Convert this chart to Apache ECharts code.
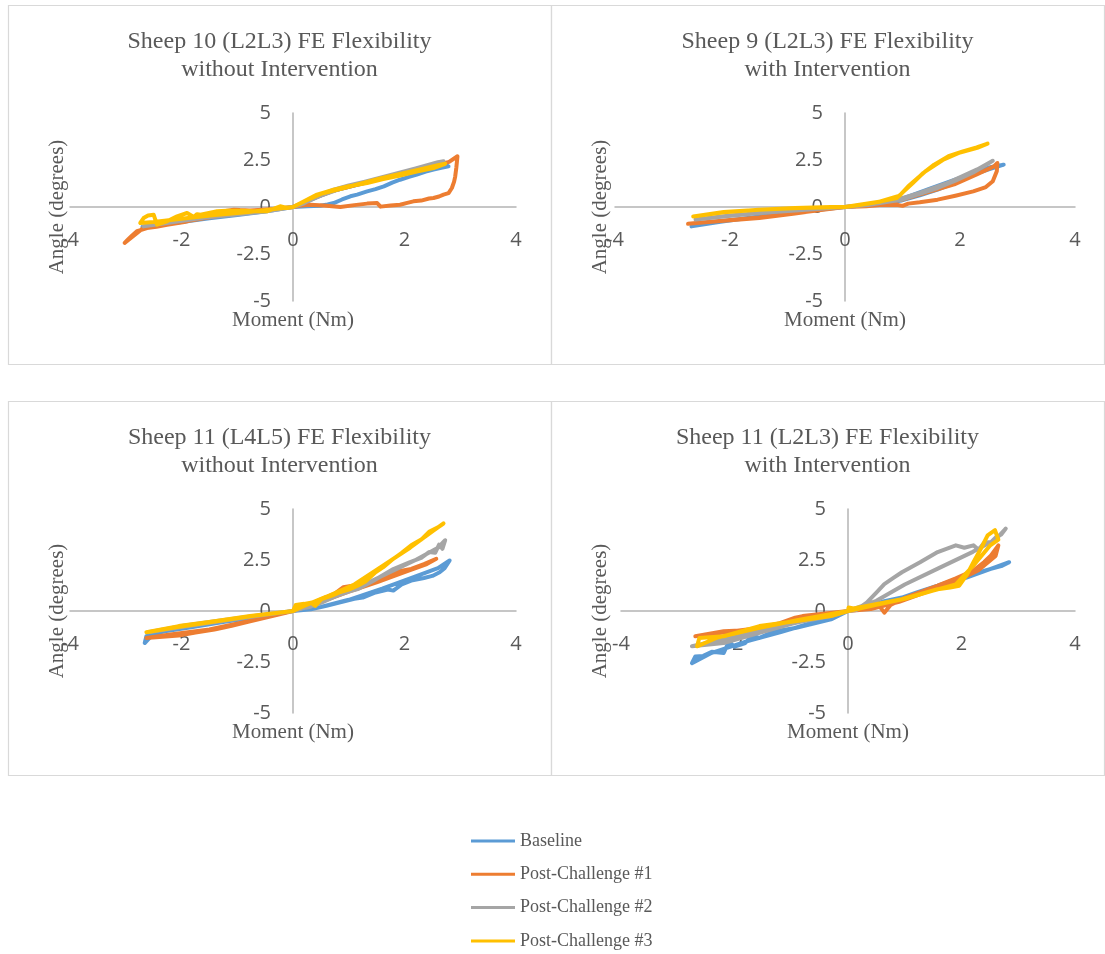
<!DOCTYPE html>
<html>
<head>
<meta charset="utf-8">
<script src="https://cdn.jsdelivr.net/npm/echarts@6/dist/echarts.min.js"></script>
<style>
  html, body { margin: 0; padding: 0; background: #ffffff; }
  #chart { width: 1105px; height: 954px; }
</style>
</head>
<body>
<div id="chart"></div>
<script>
// Series names and colours shared by all four panels
const seriesNames = ['Baseline', 'Post-Challenge #1', 'Post-Challenge #2', 'Post-Challenge #3'];
const seriesColors = ['#5B9BD5', '#ED7D31', '#A5A5A5', '#FFC000'];

const panelTitles = [
  'Sheep 10 (L2L3) FE Flexibility\nwithout Intervention',
  'Sheep 9 (L2L3) FE Flexibility\nwith Intervention',
  'Sheep 11 (L4L5) FE Flexibility\nwithout Intervention',
  'Sheep 11 (L2L3) FE Flexibility\nwith Intervention'
];
const xAxisTitle = 'Moment (Nm)';
const yAxisTitle = 'Angle (degrees)';
const momentRange = [-4, 4];   // ticks every 2
const angleRange = [-5, 5];    // ticks every 2.5

// ---- Sheep 10 (L2L3), without intervention: [moment Nm, angle deg] loops ----
const s10Baseline = [
  [0, 0], [0.25, 0.04], [0.49, 0.07], [0.62, 0.14], [0.73, 0.21], [0.88, 0.4], [1.03, 0.57], [1.15, 0.66],
  [1.33, 0.83], [1.48, 0.95], [1.63, 1.1], [1.78, 1.3], [1.92, 1.45], [2.08, 1.6], [2.22, 1.72],
  [2.38, 1.88], [2.52, 1.99], [2.66, 2.08], [2.79, 2.16],
  [2.68, 2.36], [2.4, 2.15], [1.9, 1.75], [1.3, 1.28], [0.7, 0.85], [0.4, 0.5], [0.15, 0.15], [0, 0],
  [-0.5, -0.24], [-1.0, -0.42], [-1.5, -0.6], [-2.0, -0.8], [-2.4, -0.95], [-2.7, -1.05],
  [-2.4, -0.9], [-1.8, -0.65], [-1.1, -0.4], [-0.5, -0.2], [0, 0]
];
const s10Challenge1 = [
  [0, 0], [0.15, 0.08], [0.31, 0.12], [0.55, 0.08], [0.85, 0], [1.1, 0.1], [1.33, 0.18], [1.51, 0.21],
  [1.57, 0.02], [1.75, 0.08], [1.92, 0.12], [2.05, 0.22], [2.16, 0.3], [2.3, 0.34], [2.44, 0.45],
  [2.52, 0.48], [2.62, 0.56], [2.7, 0.66], [2.79, 0.74], [2.85, 1.01], [2.89, 1.35], [2.91, 1.63],
  [2.93, 2.1], [2.95, 2.7],
  [2.8, 2.4], [2.4, 2.12], [1.9, 1.75], [1.3, 1.3], [0.7, 0.85], [0.35, 0.45], [0, 0],
  [-0.35, -0.11], [-0.55, -0.15], [-0.77, -0.18], [-0.95, -0.16], [-1.06, -0.14], [-1.18, -0.2],
  [-1.4, -0.4], [-1.66, -0.59], [-1.95, -0.8], [-2.26, -0.94], [-2.45, -1.05], [-2.62, -1.12],
  [-2.72, -1.22], [-2.8, -1.29], [-2.88, -1.5], [-2.95, -1.7], [-3.02, -1.91],
  [-2.7, -1.15], [-2.0, -0.8], [-1.3, -0.45], [-0.6, -0.2], [0, 0]
];
const s10Challenge2 = [
  [0, 0], [0.2, 0.2], [0.43, 0.57], [0.73, 0.92], [1.0, 1.15], [1.33, 1.37], [1.62, 1.6],
  [1.92, 1.81], [2.22, 2.04], [2.52, 2.25], [2.7, 2.43],
  [2.6, 2.38], [2.2, 2.05], [1.6, 1.58], [1.0, 1.12], [0.5, 0.6], [0.2, 0.22], [0, 0],
  [-0.47, -0.23], [-1.06, -0.41], [-1.66, -0.59], [-2.26, -0.85], [-2.68, -1.03],
  [-2.3, -0.87], [-1.6, -0.57], [-1.0, -0.38], [-0.45, -0.2], [0, 0]
];
const s10Challenge3 = [
  [0, 0], [0.25, 0.39], [0.43, 0.66], [0.73, 0.92], [1.0, 1.1], [1.33, 1.28], [1.62, 1.48],
  [1.92, 1.67], [2.22, 1.88], [2.52, 2.07], [2.73, 2.3],
  [2.6, 2.22], [2.2, 1.95], [1.6, 1.55], [1.0, 1.08], [0.5, 0.7], [0.2, 0.3], [0, 0],
  [-0.11, -0.05], [-0.23, 0.04], [-0.35, -0.1], [-0.47, -0.23], [-0.71, -0.23], [-0.9, -0.2],
  [-1.06, -0.2], [-1.2, -0.2], [-1.36, -0.23], [-1.66, -0.41], [-1.72, -0.38], [-1.78, -0.53],
  [-1.9, -0.32], [-2.08, -0.5], [-2.26, -0.76], [-2.44, -0.94], [-2.5, -0.41], [-2.6, -0.45],
  [-2.68, -0.59], [-2.74, -0.85],
  [-2.5, -0.8], [-2.0, -0.62], [-1.4, -0.42], [-0.8, -0.26], [-0.3, -0.1], [0, 0]
];

// ---- Sheep 9 (L2L3), with intervention ----
const s9Baseline = [
  [0, 0], [0.4, 0.1], [0.99, 0.35], [1.3, 0.62], [1.61, 0.92], [1.92, 1.3], [2.23, 1.72], [2.5, 2.0], [2.76, 2.25],
  [2.5, 2.1], [2.0, 1.55], [1.5, 1.0], [1.0, 0.45], [0.5, 0.14], [0, 0],
  [-0.25, -0.07], [-0.87, -0.28], [-1.49, -0.5], [-2.11, -0.76], [-2.67, -1.03],
  [-2.2, -0.8], [-1.5, -0.5], [-0.8, -0.25], [0, 0]
];
const s9Challenge1 = [
  [0, 0], [0.37, 0.04], [0.6, 0.1], [0.9, 0.12], [1.0, 0.06], [1.1, 0.18], [1.3, 0.25], [1.61, 0.39],
  [1.92, 0.6], [2.23, 0.83], [2.45, 1.06], [2.57, 1.37], [2.64, 1.9], [2.65, 2.34],
  [2.59, 2.16], [2.3, 1.75], [1.9, 1.2], [1.4, 0.75], [1.0, 0.4], [0.5, 0.12], [0, 0],
  [-0.37, -0.14], [-0.87, -0.35], [-1.49, -0.59], [-2.11, -0.73], [-2.73, -0.89],
  [-2.2, -0.74], [-1.5, -0.56], [-0.8, -0.3], [0, 0]
];
const s9Challenge2 = [
  [0, 0], [0.37, 0.12], [0.99, 0.39], [1.3, 0.7], [1.61, 1.01], [1.92, 1.4], [2.23, 1.84], [2.57, 2.46],
  [2.3, 2.0], [1.8, 1.3], [1.3, 0.75], [0.8, 0.3], [0.4, 0.1], [0, 0],
  [-0.87, -0.18], [-1.49, -0.32], [-2.11, -0.5], [-2.6, -0.67],
  [-2.0, -0.45], [-1.2, -0.25], [-0.5, -0.08], [0, 0]
];
const s9Challenge3 = [
  [0, 0], [0.25, 0.12], [0.62, 0.3], [0.9, 0.48], [0.99, 0.74], [1.18, 1.28], [1.36, 1.81],
  [1.55, 2.25], [1.8, 2.7], [2.05, 2.96], [2.29, 3.17], [2.48, 3.37],
  [2.3, 3.15], [2.0, 2.9], [1.7, 2.5], [1.4, 1.9], [1.1, 1.1], [0.95, 0.6], [0.6, 0.28], [0.25, 0.1], [0, 0],
  [-0.25, 0], [-0.87, -0.05], [-1.49, -0.14], [-2.11, -0.27], [-2.64, -0.5],
  [-2.1, -0.28], [-1.5, -0.15], [-0.8, -0.05], [0, 0]
];

// ---- Sheep 11 (L4L5), without intervention ----
const s11aBaseline = [
  [0, 0], [0.32, 0.08], [0.6, 0.25], [0.83, 0.41], [1.1, 0.6], [1.25, 0.66], [1.48, 0.91], [1.7, 1.05],
  [1.8, 1.0], [1.95, 1.3], [2.12, 1.49], [2.35, 1.62], [2.5, 1.72], [2.63, 1.9], [2.72, 2.1], [2.81, 2.48],
  [2.6, 2.1], [2.2, 1.7], [1.6, 1.1], [1.0, 0.55], [0.5, 0.2], [0, 0],
  [-0.6, -0.28], [-1.2, -0.52], [-1.8, -0.78], [-2.3, -1.0], [-2.63, -1.24], [-2.66, -1.57],
  [-2.5, -1.1], [-2.0, -0.85], [-1.4, -0.6], [-0.8, -0.35], [0, 0]
];
const s11aChallenge1 = [
  [0, 0], [0.25, 0.25], [0.51, 0.58], [0.75, 0.85], [0.9, 1.16], [1.1, 1.25], [1.3, 1.38], [1.48, 1.4],
  [1.7, 1.75], [1.9, 1.95], [2.12, 2.06], [2.35, 2.3], [2.57, 2.56],
  [2.4, 2.3], [2.0, 1.9], [1.5, 1.4], [1.0, 0.95], [0.5, 0.45], [0, 0],
  [-0.26, -0.17], [-0.77, -0.5], [-1.1, -0.72], [-1.41, -0.91], [-1.75, -1.05], [-2.05, -1.2], [-2.63, -1.32],
  [-2.2, -1.15], [-1.5, -0.9], [-0.8, -0.5], [0, 0]
];
const s11aChallenge2 = [
  [0, 0], [0.06, 0.08], [0.3, 0.2], [0.51, 0.41], [0.75, 0.7], [1.0, 0.95], [1.16, 1.07], [1.45, 1.5],
  [1.8, 2.06], [2.1, 2.4], [2.3, 2.6], [2.44, 2.89], [2.55, 2.85], [2.62, 3.25], [2.68, 3.05], [2.73, 3.47],
  [2.6, 3.1], [2.2, 2.5], [1.7, 1.85], [1.2, 1.2], [0.6, 0.55], [0.2, 0.15], [0, 0],
  [-0.7, -0.25], [-1.4, -0.5], [-2.0, -0.74], [-2.6, -1.04],
  [-2.0, -0.78], [-1.3, -0.5], [-0.6, -0.22], [0, 0]
];
const s11aChallenge3 = [
  [0, 0], [0.05, 0.3], [0.2, 0.35], [0.32, 0.41], [0.4, 0.25], [0.51, 0.58], [0.7, 0.75], [0.83, 0.91],
  [1.0, 1.05], [1.16, 1.24], [1.3, 1.45], [1.48, 1.9], [1.62, 2.15], [1.8, 2.56], [1.95, 2.85],
  [2.12, 3.22], [2.3, 3.5], [2.44, 3.88], [2.6, 4.1], [2.7, 4.29],
  [2.5, 3.9], [2.1, 3.1], [1.6, 2.2], [1.1, 1.3], [0.6, 0.7], [0.2, 0.25], [0, 0],
  [-0.77, -0.25], [-1.41, -0.5], [-2.05, -0.74], [-2.63, -1.04],
  [-2.1, -0.8], [-1.4, -0.52], [-0.7, -0.24], [0, 0]
];

// ---- Sheep 11 (L2L3), with intervention ----
const s11bBaseline = [
  [0, 0], [0.33, 0.25], [0.6, 0.45], [0.95, 0.66], [1.2, 0.9], [1.58, 1.24], [1.9, 1.55], [2.21, 1.82],
  [2.5, 2.05], [2.7, 2.2], [2.84, 2.39],
  [2.6, 2.15], [2.1, 1.65], [1.5, 1.1], [0.9, 0.6], [0.4, 0.25], [0, 0],
  [-0.3, -0.41], [-0.93, -0.83], [-1.3, -1.0], [-1.56, -1.32], [-1.7, -1.2], [-1.81, -1.57],
  [-2.0, -1.75], [-2.1, -1.5], [-2.19, -2.06], [-2.4, -2.0], [-2.55, -2.2], [-2.69, -2.23], [-2.75, -2.56],
  [-2.4, -2.05], [-1.8, -1.5], [-1.2, -1.05], [-0.6, -0.55], [0, 0]
];
const s11bChallenge1 = [
  [0, 0], [0.33, 0.17], [0.55, 0.25], [0.64, -0.08], [0.75, 0.3], [0.95, 0.58], [1.2, 0.85],
  [1.58, 1.24], [1.9, 1.6], [2.21, 1.98], [2.4, 2.4], [2.52, 2.72], [2.65, 3.22],
  [2.6, 2.7], [2.3, 2.0], [1.9, 1.45], [1.4, 0.95], [0.9, 0.45], [0.4, 0.1], [0, 0],
  [-0.8, -0.25], [-0.93, -0.33], [-1.2, -0.6], [-1.56, -0.91], [-1.9, -0.95], [-2.19, -0.99], [-2.69, -1.24],
  [-2.2, -1.05], [-1.6, -0.85], [-0.9, -0.4], [0, 0]
];
const s11bChallenge2 = [
  [0, 0], [0.15, 0.05], [0.33, 0.41], [0.5, 0.9], [0.64, 1.32], [0.8, 1.62], [0.95, 1.9],
  [1.27, 2.39], [1.58, 2.89], [1.9, 3.22], [2.05, 3.1], [2.21, 3.22], [2.3, 3.0], [2.4, 3.35],
  [2.52, 3.38], [2.6, 3.6], [2.7, 3.75], [2.78, 4.04],
  [2.6, 3.5], [2.2, 2.9], [1.6, 2.1], [1.0, 1.3], [0.5, 0.5], [0, 0],
  [-0.3, -0.25], [-0.93, -0.58], [-1.56, -1.07], [-2.19, -1.57], [-2.75, -1.73],
  [-2.2, -1.4], [-1.5, -0.95], [-0.8, -0.5], [0, 0]
];
const s11bChallenge3 = [
  [0, 0], [0.01, 0.17], [0.1, 0.12], [0.33, 0.25], [0.6, 0.4], [0.95, 0.58], [1.3, 0.85],
  [1.58, 1.07], [1.8, 1.15], [1.96, 1.24], [2.1, 1.8], [2.21, 2.39], [2.35, 3.1], [2.46, 3.71],
  [2.59, 3.96], [2.65, 3.5],
  [2.5, 3.2], [2.2, 2.2], [1.9, 1.3], [1.5, 1.0], [1.0, 0.6], [0.5, 0.3], [0, 0],
  [-0.3, -0.25], [-0.93, -0.5], [-1.56, -0.74], [-2.19, -1.24], [-2.62, -1.32], [-2.66, -1.73],
  [-2.3, -1.3], [-1.6, -0.85], [-0.9, -0.45], [0, 0]
];

const panelData = [
  [s10Baseline, s10Challenge1, s10Challenge2, s10Challenge3],
  [s9Baseline, s9Challenge1, s9Challenge2, s9Challenge3],
  [s11aBaseline, s11aChallenge1, s11aChallenge2, s11aChallenge3],
  [s11bBaseline, s11bChallenge1, s11bChallenge2, s11bChallenge3]
];

// Layout of the four panels: frame box and plot rectangle
const panelLayout = [
  { box: [8, 5, 543, 359],   plot: { left: 70,  top: 113, width: 446, height: 188 } },
  { box: [551, 5, 553, 359], plot: { left: 615, top: 113, width: 460, height: 188 } },
  { box: [8, 401, 543, 374], plot: { left: 70,  top: 509, width: 446, height: 204 } },
  { box: [551, 401, 553, 374], plot: { left: 621, top: 509, width: 454, height: 204 } }
];

const textGrey = '#595959';
const axisGrey = '#B4B4B4';
const serif = '"Liberation Serif", "Times New Roman", serif';
const sans = '"Open Sans", "DejaVu Sans", sans-serif';

const grids = [], xAxes = [], yAxes = [], series = [], graphics = [];

panelLayout.forEach((p, i) => {
  grids.push(Object.assign({ containLabel: false, outerBoundsMode: 'none' }, p.plot));

  // Both axes cross at the origin, which sits in the middle of each plot:
  // shift the whole axis (line and labels) inwards by half the plot size.
  xAxes.push({
    type: 'value', gridIndex: i, min: momentRange[0], max: momentRange[1], interval: 2,
    position: 'bottom', offset: -p.plot.height / 2,
    axisLine: { show: true, onZero: false, lineStyle: { color: axisGrey, width: 1.5 } },
    axisTick: { show: false }, splitLine: { show: false },
    axisLabel: { margin: 23, color: textGrey, fontSize: 20, fontFamily: sans }
  });
  yAxes.push({
    type: 'value', gridIndex: i, min: angleRange[0], max: angleRange[1], interval: 2.5,
    position: 'left', offset: -p.plot.width / 2,
    axisLine: { show: true, onZero: false, lineStyle: { color: axisGrey, width: 1.5 } },
    axisTick: { show: false }, splitLine: { show: false },
    axisLabel: { margin: 22, color: textGrey, fontSize: 20, fontFamily: sans }
  });

  panelData[i].forEach((d, j) => {
    series.push({
      type: 'line', name: seriesNames[j], xAxisIndex: i, yAxisIndex: i, data: d,
      showSymbol: false, symbol: 'none', smooth: false,
      lineStyle: { color: seriesColors[j], width: 4, cap: 'round', join: 'round' },
      itemStyle: { color: seriesColors[j] },
      emphasis: { disabled: true }
    });
  });

  // panel frame
  const [bx, by, bw, bh] = p.box;
  graphics.push({
    type: 'rect', z: -1, silent: true,
    shape: { x: bx + 0.5, y: by + 0.5, width: bw, height: bh },
    style: { fill: 'none', stroke: '#D9D9D9', lineWidth: 1.2 }
  });

  const cx = bx + bw / 2;
  const axisX = p.plot.left + p.plot.width / 2;
  const axisY = p.plot.top + p.plot.height / 2;

  // panel title
  graphics.push({
    type: 'text', silent: true, x: cx, y: by + 23,
    style: {
      text: panelTitles[i], fill: textGrey, font: '24px ' + serif,
      align: 'center', textAlign: 'center', verticalAlign: 'top', textVerticalAlign: 'top',
      lineHeight: 28
    }
  });
  // x-axis title
  graphics.push({
    type: 'text', silent: true, x: axisX, y: p.plot.top + p.plot.height + 19,
    style: {
      text: xAxisTitle, fill: textGrey, font: '21px ' + serif,
      align: 'center', textAlign: 'center', verticalAlign: 'middle', textVerticalAlign: 'middle'
    }
  });
  // y-axis title (rotated)
  graphics.push({
    type: 'text', silent: true, x: bx + 49, y: axisY, rotation: Math.PI / 2,
    style: {
      text: yAxisTitle, fill: textGrey, font: '21px ' + serif,
      align: 'center', textAlign: 'center', verticalAlign: 'middle', textVerticalAlign: 'middle'
    }
  });
});

const chart = echarts.init(document.getElementById('chart'), null, { renderer: 'canvas' });
chart.setOption({
  animation: false,
  backgroundColor: '#ffffff',
  grid: grids,
  xAxis: xAxes,
  yAxis: yAxes,
  series: series,
  graphic: graphics,
  legend: {
    data: seriesNames,
    orient: 'vertical',
    left: 471, top: 832, height: 122, padding: 0,
    icon: 'rect', itemWidth: 44, itemHeight: 3, itemGap: 15.3,
    textStyle: { color: textGrey, fontSize: 18, fontFamily: serif },
    selectedMode: false
  }
});
</script>
</body>
</html>
